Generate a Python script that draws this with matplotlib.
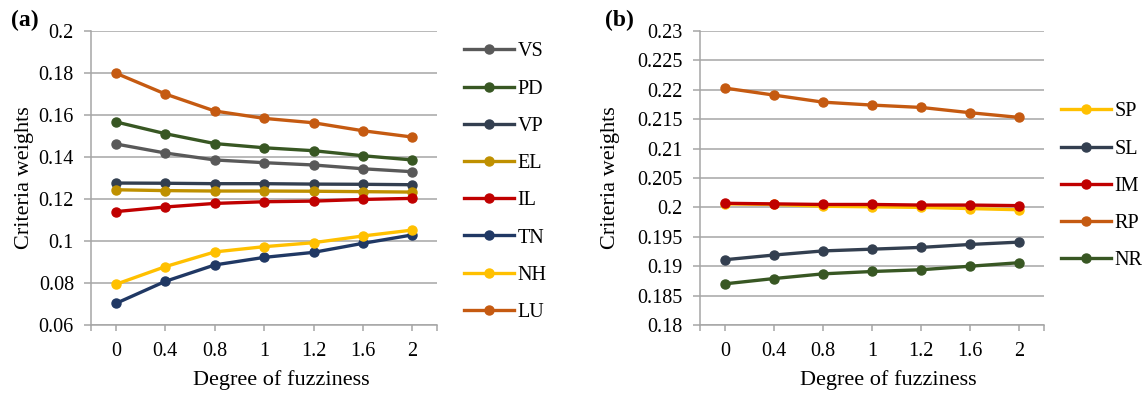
import matplotlib
matplotlib.use('Agg')
import matplotlib.pyplot as plt
import numpy as np

# x categories (degree of fuzziness)
fuzz = ['0', '0.4', '0.8', '1', '1.2', '1.6', '2']

# panel (a)
names_a = ['VS', 'PD', 'VP', 'EL', 'IL', 'TN', 'NH', 'LU']
VS = [0.1462, 0.1419, 0.1386, 0.1373, 0.1362, 0.1344, 0.1330]
PD = [0.1567, 0.1511, 0.1464, 0.1444, 0.1430, 0.1406, 0.1386]
VP = [0.1276, 0.1275, 0.1273, 0.1273, 0.1271, 0.1270, 0.1268]
EL = [0.1244, 0.1240, 0.1238, 0.1238, 0.1237, 0.1235, 0.1233]
IL = [0.1140, 0.1162, 0.1179, 0.1187, 0.1190, 0.1198, 0.1203]
TN = [0.0703, 0.0808, 0.0886, 0.0922, 0.0946, 0.0989, 0.1029]
NH = [0.0794, 0.0878, 0.0948, 0.0973, 0.0992, 0.1024, 0.1052]
LU = [0.1799, 0.1700, 0.1619, 0.1584, 0.1563, 0.1525, 0.1495]
series_a = [VS, PD, VP, EL, IL, TN, NH, LU]
colors_a = ['#595959', '#385723', '#333F50', '#BF9000', '#C00000',
            '#203864', '#FFC000', '#C55A11']

# panel (b)
names_b = ['SP', 'SL', 'IM', 'RP', 'NR']
SP = [0.2006, 0.2005, 0.2002, 0.2001, 0.2000, 0.1998, 0.1996]
SL = [0.1911, 0.1919, 0.1926, 0.1929, 0.1932, 0.1937, 0.1941]
IM = [0.2007, 0.2006, 0.2005, 0.2005, 0.2004, 0.2004, 0.2003]
RP = [0.2203, 0.2191, 0.2179, 0.2174, 0.2170, 0.2161, 0.2153]
NR = [0.1870, 0.1879, 0.1887, 0.1891, 0.1894, 0.1900, 0.1906]
series_b = [SP, SL, IM, RP, NR]
colors_b = ['#FFC000', '#333F50', '#C00000', '#C55A11', '#385723']

plt.rcParams['font.family'] = ['Liberation Serif', 'DejaVu Serif']
GRID = '#A6A6A6'

fig = plt.figure(figsize=(11.48, 3.95), dpi=100)
ax_a = fig.add_axes([0.0795, 0.1772, 0.3012, 0.7443])
ax_b = fig.add_axes([0.6100, 0.1772, 0.2994, 0.7443])


def style_axis(ax, ylim, yticks, ylab_x, xlab_x):
    x = np.arange(len(fuzz))
    ax.set_xlim(-0.5, len(fuzz) - 0.5)
    ax.set_xticks(x)
    ax.set_xticklabels(fuzz)
    ax.set_xticks([-0.5, len(fuzz) - 0.5], minor=True)
    ax.set_ylim(*ylim)
    ax.set_yticks(yticks)
    ax.set_yticklabels([f'{v:.3f}'.rstrip('0').rstrip('.') for v in yticks])
    ax.grid(axis='y', color=GRID, linewidth=1.1)
    ax.set_axisbelow(True)
    for s in ['top', 'right']:
        ax.spines[s].set_visible(False)
    for s in ['left', 'bottom']:
        ax.spines[s].set_color(GRID)
        ax.spines[s].set_linewidth(1.1)
    ax.tick_params(axis='y', length=5, width=1.1, color=GRID, pad=7.5,
                   labelsize=14.5)
    ax.tick_params(axis='x', which='both', length=4, width=1.1, color=GRID,
                   pad=8, labelsize=14.5)
    ax.set_xlabel('Degree of fuzziness', fontsize=16)
    ax.set_ylabel('Criteria weights', fontsize=16)
    ax.xaxis.set_label_coords(xlab_x, -0.155)
    ax.yaxis.set_label_coords(ylab_x, 0.5)


x = np.arange(len(fuzz))
for name, ys, c in zip(names_a, series_a, colors_a):
    ax_a.plot(x, ys, color=c, lw=2.4, marker='o', ms=6.5, label=name)
for name, ys, c in zip(names_b, series_b, colors_b):
    ax_b.plot(x, ys, color=c, lw=2.4, marker='o', ms=6.5, label=name)

style_axis(ax_a, (0.06, 0.2), np.arange(0.06, 0.2001, 0.02), -0.165, 0.549)
style_axis(ax_b, (0.18, 0.23), np.arange(0.18, 0.2301, 0.005), -0.233, 0.547)

ax_a.legend(loc='upper left', bbox_to_anchor=(1.055, 0.989), frameon=False,
            fontsize=14.5, handlelength=2.5, handletextpad=0.15,
            labelspacing=0.9, borderaxespad=0)
ax_b.legend(loc='upper left', bbox_to_anchor=(1.026, 0.785), frameon=False,
            fontsize=14.5, handlelength=2.5, handletextpad=0.15,
            labelspacing=0.9, borderaxespad=0)

fig.text(0.010, 0.947, '(a)', fontsize=17, fontweight='bold', va='center')
fig.text(0.527, 0.947, '(b)', fontsize=17, fontweight='bold', va='center')

fig.savefig('out.png', dpi=100)
